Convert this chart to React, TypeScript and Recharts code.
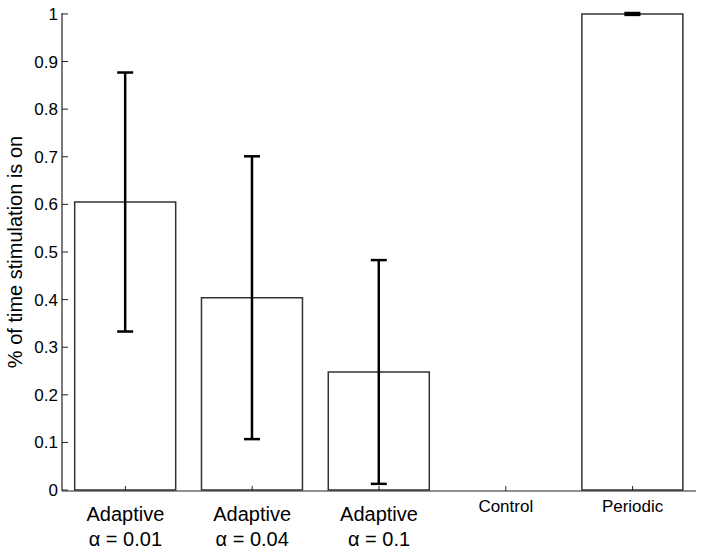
import React from 'react';
import { BarChart, Bar, XAxis, YAxis, ErrorBar } from 'recharts';

// label lines for each group under the x axis
const labelLines: string[][] = [
  ['Adaptive', 'α = 0.01'],
  ['Adaptive', 'α = 0.04'],
  ['Adaptive', 'α = 0.1'],
  ['Control'],
  ['Periodic'],
];
const categories = labelLines.map((l) => l.join(' '));
const means = [0.605, 0.404, 0.248, 0, 1];
const errors = [0.272, 0.297, 0.235, 0.002, 0.002];
const yTicks = [0, 0.1, 0.2, 0.3, 0.4, 0.5, 0.6, 0.7, 0.8, 0.9, 1];

const data = categories.map((name, i) => ({ name, value: means[i], err: errors[i] }));

const FONT = '"Liberation Sans", Arial, Helvetica, sans-serif';
const W = 704;
const H = 554;
const AXIS_X = 62;
const AXIS_Y = 491;

const YTick = (props: any) => {
  const { y, payload } = props;
  return (
    <g>
      <line x1={AXIS_X} x2={AXIS_X + 6} y1={y} y2={y} stroke="#222" strokeWidth={1} />
      <text x={AXIS_X - 4} y={y + 6} textAnchor="end" fontSize={17} fontFamily={FONT} fill="#000">
        {String(payload.value)}
      </text>
    </g>
  );
};

const XTick = (props: any) => {
  const { x, payload } = props;
  const idx = categories.indexOf(payload.value);
  const lines = labelLines[idx] || [payload.value];
  const big = lines.length > 1;
  return (
    <g>
      <line x1={x} x2={x} y1={AXIS_Y} y2={AXIS_Y - 5} stroke="#222" strokeWidth={1} />
      {lines.map((t, i) => (
        <text
          key={i}
          x={x}
          y={big ? AXIS_Y + 30 + i * 25 : AXIS_Y + 21}
          textAnchor="middle"
          fontSize={big ? 20 : 17}
          fontFamily={FONT}
          fill="#000"
        >
          {t}
        </text>
      ))}
    </g>
  );
};

export default function App() {
  return (
    <div style={{ position: 'absolute', left: 0, top: 0, width: W, height: H, background: '#fff' }}>
      <BarChart
        width={W}
        height={H}
        data={data}
        margin={{ top: 13, right: 8, left: 0, bottom: 3 }}
        barCategoryGap="10%"
      >
        <XAxis
          dataKey="name"
          height={60}
          tick={<XTick />}
          tickLine={false}
          axisLine={{ stroke: '#222', strokeWidth: 1.2 }}
          interval={0}
        />
        <YAxis
          width={62}
          domain={[0, 1]}
          ticks={yTicks}
          type="number"
          tick={<YTick />}
          tickLine={false}
          axisLine={{ stroke: '#222', strokeWidth: 1.2 }}
          label={{
            value: '% of time stimulation is on',
            angle: -90,
            position: 'insideLeft',
            offset: 15,
            style: { textAnchor: 'middle', fontSize: 20, fontFamily: FONT, fill: '#000' },
          }}
        />
        <Bar dataKey="value" fill="#fff" stroke="#333" strokeWidth={1.5} isAnimationActive={false}>
          <ErrorBar dataKey="err" width={8} stroke="#000" strokeWidth={2.5} direction="y" />
        </Bar>
      </BarChart>
    </div>
  );
}
